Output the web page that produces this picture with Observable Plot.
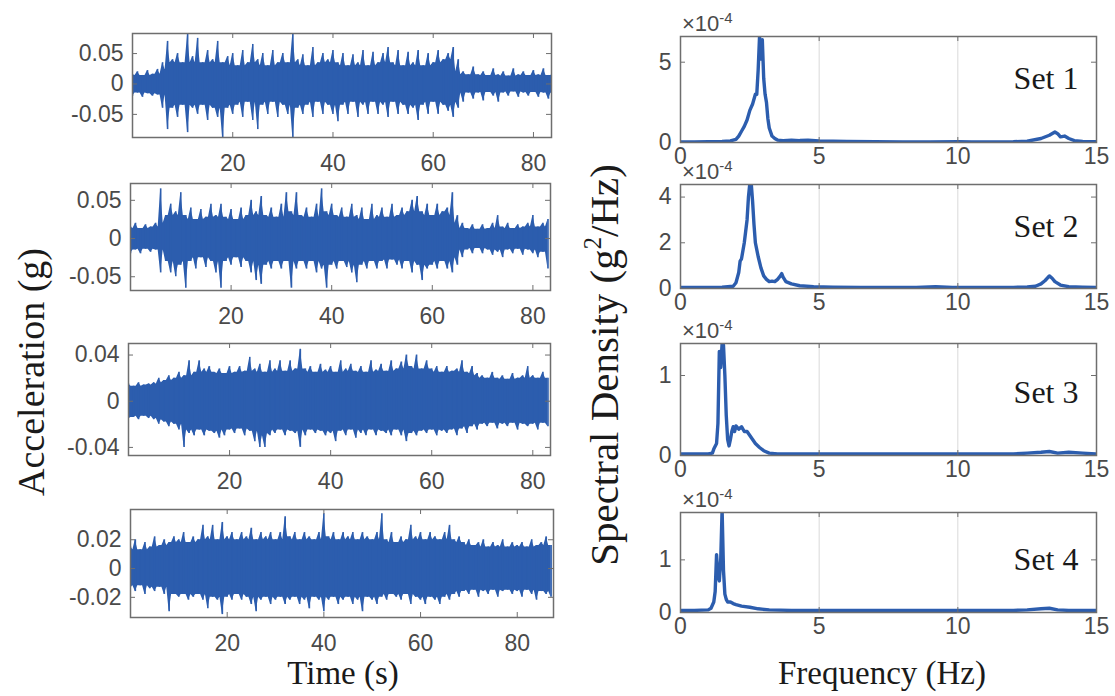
<!DOCTYPE html>
<html><head><meta charset="utf-8">
<script src="https://cdn.jsdelivr.net/npm/d3@7"></script>
<script src="https://cdn.jsdelivr.net/npm/@observablehq/plot@0.6"></script>
<style>
body{margin:0;background:#fff;}
#fig{position:relative;width:1115px;height:696px;overflow:hidden;background:#fff;}
.lab{position:absolute;font-family:"Liberation Serif","Times New Roman",serif;color:#1a1a1a;white-space:nowrap;line-height:1;}
.exp{position:absolute;font-family:"Liberation Sans",Arial,sans-serif;color:#4a4a4a;font-size:22px;line-height:1;white-space:nowrap;}
.exp sup{font-size:15px;vertical-align:8px;}
</style></head><body><div id="fig"></div>
<script>
// ---------- data ----------
const timeTicks = [20, 40, 60, 80];
const freqTicks = [0, 5, 10, 15];
const freqGrid = [5, 10];
const setLabels = ["Set 1", "Set 2", "Set 3", "Set 4"];

// upper / lower envelope of each acceleration record, one value per second (g)
const accTop1 = [0.015,0.02,0.014,0.022,0.016,0.024,0.035,0.07,0.04,0.05,
0.035,0.082,0.045,0.075,0.035,0.055,0.04,0.07,0.035,0.045,
0.05,0.03,0.055,0.035,0.065,0.04,0.05,0.03,0.055,0.035,
0.05,0.035,0.085,0.04,0.048,0.03,0.06,0.035,0.05,0.04,
0.055,0.035,0.05,0.03,0.048,0.035,0.055,0.03,0.052,0.035,
0.05,0.06,0.035,0.055,0.03,0.052,0.035,0.055,0.03,0.05,
0.035,0.055,0.04,0.05,0.06,0.04,0.02,0.015,0.028,0.015,
0.02,0.014,0.025,0.015,0.02,0.013,0.025,0.015,0.02,0.014,
0.022,0.015,0.025,0.014,0.02];
const accBot1 = [-0.02,-0.015,-0.022,-0.016,-0.02,-0.018,-0.04,-0.075,-0.04,-0.055,
-0.035,-0.08,-0.04,-0.05,-0.035,-0.06,-0.04,-0.055,-0.09,-0.04,
-0.05,-0.035,-0.055,-0.03,-0.06,-0.075,-0.035,-0.05,-0.03,-0.055,
-0.035,-0.05,-0.09,-0.04,-0.05,-0.035,-0.055,-0.03,-0.05,-0.035,
-0.05,-0.062,-0.035,-0.05,-0.03,-0.055,-0.035,-0.05,-0.03,-0.05,
-0.035,-0.055,-0.03,-0.05,-0.035,-0.05,-0.04,-0.06,-0.035,-0.05,
-0.03,-0.05,-0.035,-0.045,-0.055,-0.04,-0.03,-0.015,-0.025,-0.015,
-0.028,-0.014,-0.02,-0.03,-0.015,-0.02,-0.013,-0.022,-0.015,-0.02,
-0.014,-0.022,-0.015,-0.025,-0.018];

const accTop2 = [0.015,0.02,0.013,0.018,0.015,0.02,0.065,0.03,0.045,0.035,
0.06,0.03,0.04,0.025,0.038,0.028,0.045,0.03,0.045,0.028,
0.038,0.025,0.04,0.03,0.05,0.035,0.055,0.03,0.04,0.028,
0.045,0.06,0.035,0.06,0.03,0.04,0.028,0.045,0.065,0.035,
0.045,0.03,0.04,0.028,0.045,0.03,0.04,0.025,0.045,0.03,
0.04,0.028,0.045,0.03,0.04,0.035,0.05,0.055,0.035,0.045,
0.03,0.045,0.035,0.04,0.06,0.03,0.02,0.013,0.018,0.012,
0.018,0.013,0.02,0.03,0.015,0.02,0.013,0.018,0.015,0.02,
0.03,0.015,0.02,0.025];
const accBot2 = [-0.02,-0.015,-0.02,-0.014,-0.018,-0.015,-0.045,-0.03,-0.045,-0.05,
-0.035,-0.065,-0.03,-0.04,-0.025,-0.038,-0.03,-0.045,-0.065,-0.03,
-0.035,-0.025,-0.038,-0.03,-0.045,-0.055,-0.06,-0.035,-0.04,-0.03,
-0.04,-0.03,-0.065,-0.04,-0.03,-0.04,-0.03,-0.045,-0.04,-0.065,
-0.035,-0.04,-0.03,-0.038,-0.045,-0.058,-0.035,-0.04,-0.03,-0.04,
-0.03,-0.04,-0.028,-0.035,-0.04,-0.03,-0.045,-0.035,-0.055,-0.04,
-0.035,-0.04,-0.03,-0.04,-0.045,-0.035,-0.025,-0.015,-0.02,-0.013,
-0.02,-0.015,-0.022,-0.018,-0.025,-0.015,-0.02,-0.014,-0.022,-0.015,
-0.02,-0.025,-0.018,-0.04];

const accTop3 = [0.015,0.013,0.016,0.014,0.015,0.016,0.02,0.018,0.022,0.02,
0.025,0.022,0.035,0.025,0.035,0.028,0.03,0.025,0.028,0.024,
0.03,0.025,0.03,0.026,0.038,0.028,0.032,0.025,0.035,0.028,
0.035,0.026,0.035,0.028,0.045,0.028,0.03,0.025,0.032,0.027,
0.03,0.025,0.035,0.028,0.032,0.026,0.03,0.025,0.035,0.027,
0.032,0.026,0.035,0.028,0.034,0.04,0.03,0.04,0.028,0.035,
0.028,0.03,0.025,0.03,0.026,0.028,0.035,0.025,0.03,0.024,
0.022,0.02,0.025,0.02,0.022,0.019,0.024,0.02,0.022,0.03,
0.022,0.02,0.025,0.02];
const accBot3 = [-0.015,-0.014,-0.016,-0.013,-0.015,-0.016,-0.02,-0.018,-0.022,-0.02,
-0.025,-0.04,-0.028,-0.03,-0.025,-0.03,-0.026,-0.028,-0.032,-0.03,
-0.025,-0.028,-0.024,-0.03,-0.026,-0.035,-0.04,-0.04,-0.03,-0.028,
-0.025,-0.03,-0.026,-0.028,-0.04,-0.03,-0.025,-0.028,-0.026,-0.03,
-0.028,-0.035,-0.026,-0.03,-0.025,-0.032,-0.028,-0.03,-0.025,-0.03,
-0.026,-0.028,-0.03,-0.025,-0.03,-0.035,-0.028,-0.03,-0.026,-0.028,
-0.025,-0.03,-0.026,-0.028,-0.025,-0.03,-0.024,-0.028,-0.022,-0.025,
-0.02,-0.022,-0.019,-0.024,-0.02,-0.022,-0.019,-0.025,-0.02,-0.022,
-0.02,-0.025,-0.019,-0.022];

const accTop4 = [0.015,0.02,0.013,0.018,0.015,0.022,0.016,0.02,0.018,0.022,
0.02,0.025,0.018,0.022,0.02,0.03,0.022,0.03,0.02,0.032,
0.022,0.025,0.02,0.025,0.022,0.028,0.02,0.025,0.022,0.025,
0.02,0.025,0.036,0.022,0.025,0.02,0.025,0.022,0.02,0.025,
0.038,0.022,0.025,0.02,0.025,0.022,0.025,0.02,0.025,0.022,
0.02,0.025,0.038,0.02,0.025,0.018,0.022,0.02,0.03,0.022,
0.025,0.02,0.025,0.022,0.02,0.025,0.03,0.02,0.022,0.018,
0.02,0.016,0.018,0.02,0.015,0.018,0.016,0.02,0.015,0.018,
0.016,0.018,0.015,0.02,0.016,0.018,0.022,0.016];
const accBot4 = [-0.013,-0.016,-0.012,-0.018,-0.014,-0.016,-0.013,-0.018,-0.03,-0.018,
-0.02,-0.018,-0.022,-0.02,-0.018,-0.022,-0.028,-0.02,-0.022,-0.032,
-0.02,-0.022,-0.018,-0.022,-0.02,-0.025,-0.03,-0.022,-0.02,-0.025,
-0.022,-0.02,-0.025,-0.022,-0.02,-0.025,-0.022,-0.028,-0.02,-0.022,
-0.03,-0.022,-0.02,-0.025,-0.022,-0.02,-0.025,-0.022,-0.03,-0.02,
-0.022,-0.025,-0.02,-0.022,-0.018,-0.02,-0.022,-0.018,-0.025,-0.02,
-0.022,-0.025,-0.02,-0.022,-0.025,-0.02,-0.022,-0.018,-0.02,-0.016,
-0.018,-0.015,-0.02,-0.016,-0.018,-0.015,-0.02,-0.016,-0.015,-0.018,
-0.016,-0.02,-0.015,-0.018,-0.022,-0.016,-0.018,-0.02];

const accTicks1 = [-0.05, 0, 0.05];
const accTicks2 = [-0.05, 0, 0.05];
const accTicks3 = [-0.04, 0, 0.04];
const accTicks4 = [-0.02, 0, 0.02];
const accDomains = [[-0.088, 0.083], [-0.068, 0.072], [-0.047, 0.050], [-0.034, 0.041]];
const timeMax = [83.6, 83.5, 83.5, 87.5];

// power spectral density, in units of 1e-4 g^2/Hz
const specFreq1 = [0,0.5,1,1.5,1.8,2.0,2.1,2.2,2.3,2.4,2.5,2.6,2.7,2.75,2.8,2.85,2.9,2.95,3.0,3.05,3.1,3.15,3.2,3.3,3.4,3.5,3.7,4,4.3,4.6,5,5.5,6,7,8,9,10,10.5,11,12,12.5,13,13.3,13.5,13.6,13.7,13.85,14,14.2,14.5,15];
const specVal1 = [0.04,0.04,0.05,0.06,0.1,0.2,0.4,0.7,1.0,1.4,2.0,2.4,3.0,3.0,4.5,6.6,5.2,6.4,4.0,3.0,2.5,1.5,0.9,0.4,0.25,0.15,0.12,0.15,0.12,0.14,0.1,0.08,0.07,0.05,0.04,0.04,0.05,0.04,0.04,0.05,0.08,0.25,0.45,0.65,0.55,0.35,0.4,0.25,0.12,0.06,0.05];
const specFreq2 = [0,0.5,1,1.5,1.9,2.0,2.1,2.15,2.2,2.3,2.4,2.45,2.5,2.55,2.6,2.65,2.7,2.8,2.9,3.0,3.1,3.2,3.3,3.4,3.5,3.6,3.65,3.7,3.8,4.0,4.3,4.8,5.5,6.5,7.5,8.5,9.2,9.8,11,12,12.5,12.8,13.0,13.15,13.3,13.4,13.5,13.7,14,14.5,15];
const specVal2 = [0.05,0.05,0.05,0.06,0.1,0.25,0.7,1.2,1.3,2.0,3.0,4.0,4.6,4.6,3.8,2.8,2.0,1.4,0.9,0.55,0.4,0.3,0.32,0.3,0.4,0.55,0.65,0.5,0.3,0.2,0.12,0.08,0.06,0.05,0.05,0.05,0.08,0.05,0.05,0.05,0.07,0.1,0.2,0.35,0.55,0.45,0.3,0.15,0.08,0.06,0.05];
const specFreq3 = [0,0.5,1,1.15,1.2,1.3,1.35,1.4,1.45,1.5,1.55,1.6,1.65,1.7,1.75,1.8,1.85,1.9,1.95,2.0,2.1,2.2,2.3,2.4,2.5,2.6,2.7,2.85,3.0,3.2,3.5,4,5,6,8,10,11,12,12.5,13,13.3,13.6,14,14.5,15];
const specVal3 = [0.02,0.02,0.02,0.03,0.08,0.15,0.4,1.3,1.1,1.4,1.38,1.0,0.5,0.2,0.12,0.2,0.3,0.36,0.3,0.37,0.33,0.36,0.3,0.3,0.25,0.2,0.15,0.1,0.06,0.03,0.02,0.02,0.02,0.02,0.02,0.02,0.02,0.02,0.03,0.04,0.05,0.03,0.04,0.03,0.02];
const specFreq4 = [0,0.5,1,1.1,1.2,1.25,1.3,1.35,1.4,1.45,1.5,1.55,1.6,1.65,1.7,1.8,1.9,2.0,2.2,2.5,2.8,3.2,4,5,7,9,11,12,12.5,13,13.3,13.6,14,15];
const specVal4 = [0.04,0.04,0.05,0.08,0.2,0.4,1.1,0.7,0.6,1.0,1.95,0.8,0.35,0.25,0.2,0.2,0.17,0.15,0.12,0.1,0.07,0.05,0.04,0.04,0.04,0.04,0.04,0.04,0.05,0.07,0.08,0.05,0.04,0.04];

const specTicks1 = [0, 5];
const specTicks2 = [0, 2, 4];
const specTicks3 = [0, 1];
const specTicks4 = [0, 1];
const specDomains = [[0, 6.6], [0, 4.55], [0, 1.4], [0, 1.9]];

// ---------- layout ----------
const BLUE = "#2c5dae";
const AXC = "#6e6e6e";
const TXT = "#4a4a4a";
const leftFrames = [
  {l:132, r:551, t:33, b:137},
  {l:130, r:550, t:183, b:290},
  {l:128, r:550, t:343, b:455},
  {l:130, r:553, t:509, b:617}
];
const rightFrames = [
  {l:680, r:1096, t:36, b:142},
  {l:680, r:1096, t:184, b:288},
  {l:680, r:1096, t:343, b:455},
  {l:680, r:1096, t:512, b:612}
];
const setDy = [-11, -10, -7, -3];

const fig = document.getElementById("fig");
const accTop = [accTop1, accTop2, accTop3, accTop4];
const accBot = [accBot1, accBot2, accBot3, accBot4];
const accTicks = [accTicks1, accTicks2, accTicks3, accTicks4];
const specFreq = [specFreq1, specFreq2, specFreq3, specFreq4];
const specVal = [specVal1, specVal2, specVal3, specVal4];
const specTicks = [specTicks1, specTicks2, specTicks3, specTicks4];

const baseStyle = {background:"transparent", fontFamily:"'Liberation Sans', Arial, sans-serif", fontSize:"23px", color:TXT, overflow:"visible"};
const fmt = d => d === 0 ? "0" : String(d);

function place(svg, x, y) {
  svg.style.position = "absolute";
  svg.style.left = x + "px";
  svg.style.top = y + "px";
  fig.appendChild(svg);
}

for (let i = 0; i < 4; i++) {
  const f = leftFrames[i];
  const mL = 90, mR = 20, mT = 20, mB = 50;
  const fw = f.r - f.l, fh = f.b - f.t;
  const hi = accTop[i], lo = accBot[i], n = hi.length;
  // envelope polygon: each second's peak, with the trough between two peaks at the lower neighbour
  const env = [];
  for (let k = 0; k < n; k++) {
    env.push({t: k, hi: hi[k], lo: lo[k]});
    if (k < n - 1) {
      const m1 = Math.min(hi[Math.max(k - 1, 0)], hi[k], hi[k + 1], hi[Math.min(k + 2, n - 1)]);
      const m2 = Math.max(lo[Math.max(k - 1, 0)], lo[k], lo[k + 1], lo[Math.min(k + 2, n - 1)]);
      env.push({t: k + 0.5, hi: m1, lo: m2});
    }
  }
  const peaks = hi.map((v, k) => ({t: k, hi: v, lo: lo[k]}));
  const svg = Plot.plot({
    width: fw + mL + mR, height: fh + mT + mB,
    marginLeft: mL, marginRight: mR, marginTop: mT, marginBottom: mB,
    x: {domain: [0, timeMax[i]]},
    y: {domain: accDomains[i]},
    style: baseStyle,
    marks: [
      Plot.areaY(env, {x: "t", y1: "lo", y2: "hi", fill: BLUE, clip: true}),
      Plot.ruleX(peaks, {x: "t", y1: "lo", y2: "hi", stroke: BLUE, strokeWidth: 1.6, clip: true}),
      Plot.frame({stroke: AXC, strokeWidth: 1.5}),
      Plot.tickX(timeTicks, {x: d => d, stroke: AXC, insetTop: fh - 5}),
      Plot.tickX(timeTicks, {x: d => d, stroke: AXC, insetBottom: fh - 5}),
      Plot.tickY(accTicks[i], {y: d => d, stroke: AXC, insetRight: fw - 5}),
      Plot.tickY(accTicks[i], {y: d => d, stroke: AXC, insetLeft: fw - 5}),
      Plot.axisX(timeTicks, {tickSize: 0, tickPadding: 17, label: null}),
      Plot.axisY(accTicks[i], {tickSize: 0, tickPadding: 9, label: null, tickFormat: fmt})
    ]
  });
  place(svg, f.l - mL, f.t - mT);
}

for (let i = 0; i < 4; i++) {
  const f = rightFrames[i];
  const mL = 60, mR = 20, mT = 20, mB = 40;
  const fw = f.r - f.l, fh = f.b - f.t;
  const data = specFreq[i].map((v, k) => ({f: v, s: specVal[i][k]}));
  const svg = Plot.plot({
    width: fw + mL + mR, height: fh + mT + mB,
    marginLeft: mL, marginRight: mR, marginTop: mT, marginBottom: mB,
    x: {domain: [0, 15]},
    y: {domain: specDomains[i]},
    style: baseStyle,
    marks: [
      Plot.ruleX(freqGrid, {x: d => d, stroke: "#d9d9d9", strokeWidth: 1}),
      Plot.line(data, {x: "f", y: "s", stroke: BLUE, strokeWidth: 3.4, clip: true}),
      Plot.frame({stroke: AXC, strokeWidth: 1.5}),
      Plot.tickX(freqTicks, {x: d => d, stroke: AXC, insetTop: fh - 5}),
      Plot.tickX(freqTicks, {x: d => d, stroke: AXC, insetBottom: fh - 5}),
      Plot.tickY(specTicks[i], {y: d => d, stroke: AXC, insetRight: fw - 5}),
      Plot.tickY(specTicks[i], {y: d => d, stroke: AXC, insetLeft: fw - 5}),
      Plot.axisX(freqTicks, {tickSize: 0, tickPadding: 5, label: null}),
      Plot.axisY(specTicks[i], {tickSize: 0, tickPadding: 9, label: null, tickFormat: fmt}),
      Plot.text([setLabels[i]], {frameAnchor: "right", dx: -18, dy: setDy[i], textAnchor: "end",
        fontFamily: "'Liberation Serif', 'Times New Roman', serif", fontSize: 32, fill: "#1a1a1a"})
    ]
  });
  place(svg, f.l - mL, f.t - mT);
  const e = document.createElement("div");
  e.className = "exp";
  e.innerHTML = "\u00d710<sup>-4</sup>";
  e.style.left = (f.l + 2) + "px";
  e.style.top = (f.t - 26) + "px";
  fig.appendChild(e);
}

function label(html, x, y, size, rotate) {
  const d = document.createElement("div");
  d.className = "lab";
  d.innerHTML = html;
  d.style.fontSize = size + "px";
  d.style.left = x + "px";
  d.style.top = y + "px";
  d.style.transform = "translate(-50%,-50%)" + (rotate ? " rotate(-90deg)" : "");
  fig.appendChild(d);
}
label("Acceleration (g)", 31, 372, 38, true);
label("Spectral Density (g<sup style='font-size:0.6em;vertical-align:0.7em'>2</sup>/Hz)", 603, 365, 41, true);
label("Time (s)", 343, 673, 33, false);
label("Frequency (Hz)", 882, 673, 33, false);
</script></body></html>
